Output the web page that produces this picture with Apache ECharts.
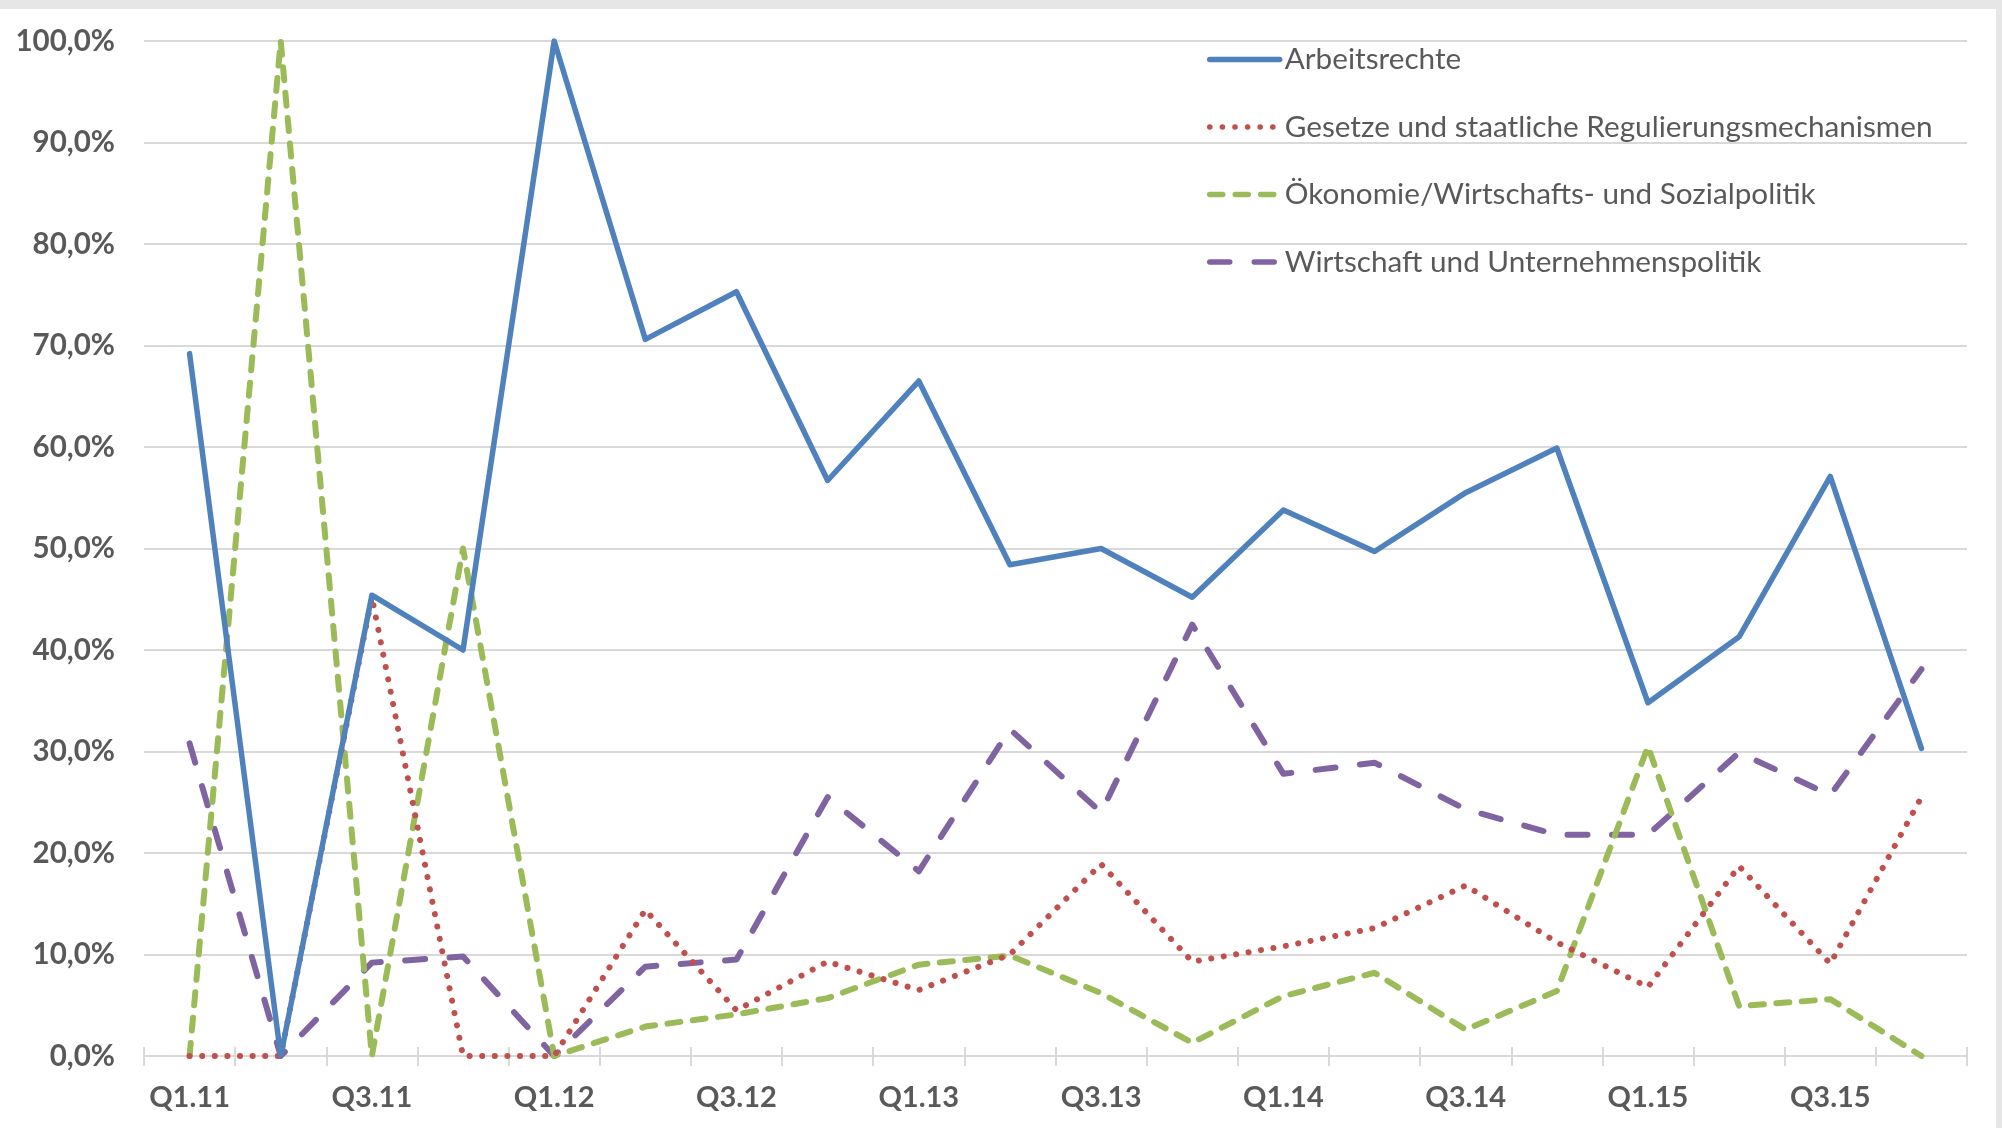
<!DOCTYPE html>
<html>
<head>
<meta charset="utf-8">
<script src="https://cdn.jsdelivr.net/npm/echarts@6/dist/echarts.min.js"></script>
<style>
  html, body { margin: 0; padding: 0; background: #e6e6e6; width: 2002px; height: 1128px; overflow: hidden; }
  #c { position: absolute; left: 0; top: 9px; width: 1996px; height: 1119px; background: #ffffff; }
</style>
</head>
<body>
<div id="c"></div>
<script>
const categories = ['Q1.11','Q2.11','Q3.11','Q4.11','Q1.12','Q2.12','Q3.12','Q4.12','Q1.13','Q2.13',
                    'Q3.13','Q4.13','Q1.14','Q2.14','Q3.14','Q4.14','Q1.15','Q2.15','Q3.15','Q4.15'];
const seriesNames = ['Arbeitsrechte', 'Gesetze und staatliche Regulierungsmechanismen',
                     'Ökonomie/Wirtschafts- und Sozialpolitik', 'Wirtschaft und Unternehmenspolitik'];
const arbeitsrechte = [69.2, 0, 45.4, 40.0, 100, 70.6, 75.3, 56.7, 66.5, 48.4, 50.0, 45.2, 53.8, 49.7, 55.5, 59.9, 34.8, 41.3, 57.1, 30.3];
const gesetze      = [0, 0, 45.2, 0, 0, 14.4, 4.5, 9.3, 6.5, 10.0, 18.9, 9.3, 10.8, 12.6, 16.8, 11.2, 6.8, 18.7, 9.1, 25.5];
const oekonomie    = [0, 100, 0, 50, 0, 2.9, 4.1, 5.7, 9.0, 9.9, 6.2, 1.3, 5.9, 8.2, 2.6, 6.4, 30.5, 4.9, 5.6, 0];
const wirtschaft   = [30.8, 0, 9.2, 9.8, 0, 8.8, 9.5, 25.5, 18.2, 32.2, 24.0, 42.5, 27.8, 28.9, 24.3, 21.8, 21.8, 29.9, 25.7, 38.1];
const yMin = 0, yMax = 100, yStep = 10;

const colors = ['#4F81BD', '#C0504D', '#9BBB59', '#8064A2'];
const styles = [
  { width: 5.5, type: 'solid' },
  { width: 6, type: [0.1, 12.5] },
  { width: 6, type: [13, 12.5] },
  { width: 6, type: [20, 24.5] }
];
const values = [arbeitsrechte, gesetze, oekonomie, wirtschaft];
const FONT = 'Lato';
const TXT = '#595959';
const GRIDC = '#d9d9d9';

const chart = echarts.init(document.getElementById('c'), null, { renderer: 'canvas' });
chart.setOption({
  backgroundColor: '#ffffff',
  animation: false,
  grid: { left: 144, right: 29, top: 32, bottom: 72 },
  legend: {
    orient: 'vertical',
    left: 1202,
    top: 30.5,
    itemWidth: 70,
    itemHeight: 14,
    itemGap: 37.5,
    data: seriesNames,
    itemStyle: { opacity: 0 },
    lineStyle: { width: 5.5, opacity: 1 },
    textStyle: { color: TXT, fontSize: 29.7, fontFamily: FONT, lineHeight: 28 }
  },
  xAxis: [{
    type: 'category',
    position: 'bottom',
    data: categories,
    boundaryGap: true,
    axisLine: { show: true, lineStyle: { color: GRIDC, width: 2 } },
    axisTick: { show: true, interval: 0, length: 10, lineStyle: { color: GRIDC, width: 2 } },
    axisLabel: { interval: 1, margin: 28, color: TXT, fontSize: 29, fontWeight: 'bold', fontFamily: FONT, lineHeight: 28 },
    splitLine: { show: false }
  }, {
    type: 'category',
    position: 'bottom',
    data: categories,
    boundaryGap: true,
    axisLine: { show: false },
    axisTick: { show: true, inside: true, interval: 0, length: 9, lineStyle: { color: GRIDC, width: 2 } },
    axisLabel: { show: false },
    splitLine: { show: false }
  }],
  yAxis: {
    type: 'value',
    min: yMin, max: yMax, interval: yStep,
    axisLine: { show: false },
    axisTick: { show: false },
    axisLabel: {
      margin: 29, color: TXT, fontSize: 29.5, fontWeight: 'bold', fontFamily: FONT,
      formatter: v => v.toFixed(1).replace('.', ',') + '%'
    },
    splitLine: { show: true, lineStyle: { color: GRIDC, width: 2 } }
  },
  series: seriesNames.map((name, i) => ({
    name: name,
    type: 'line',
    data: values[i],
    symbol: 'none',
    smooth: false,
    color: colors[i],
    lineStyle: { color: colors[i], width: styles[i].width, type: styles[i].type, cap: 'round', join: 'round' },
    z: 10 - i
  }))
});
</script>
</body>
</html>
